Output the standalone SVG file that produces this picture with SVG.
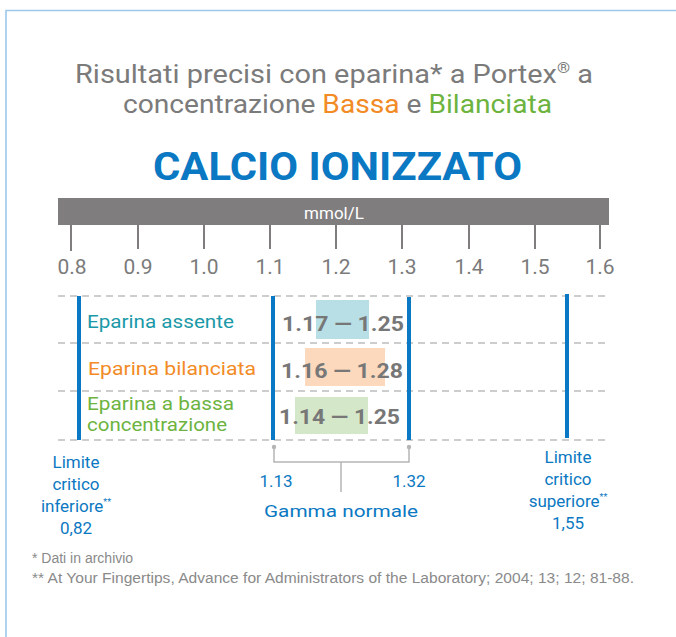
<svg xmlns="http://www.w3.org/2000/svg" width="676" height="637" viewBox="0 0 676 637">
<style>
.din{font-family:Roboto,"DejaVu Sans",sans-serif}
.gray{fill:#7b7b7b}
.blue{fill:#0a78c2}
.tick{stroke:#7f7d7e;stroke-width:2}
.tl{font-family:Roboto,sans-serif;font-size:21px;fill:#7b7b7b;text-anchor:middle}
.dash{stroke:#bdbdbd;stroke-width:1.5;stroke-dasharray:7,5}
.vbar{fill:#0a78c2}
.row{font-family:Roboto,sans-serif;font-size:19px}
.val{font-family:Roboto,sans-serif;font-size:21px;font-weight:bold;fill:#777777}
.lab{font-family:Roboto,sans-serif;font-size:17px;fill:#0a78c2;text-anchor:middle}
.foot{font-family:"Liberation Sans",Arial,sans-serif;font-size:14px;fill:#8a8a8a}
</style>
<rect x="0" y="0" width="676" height="637" fill="#ffffff"/>
<path d="M6 640 V10.5 H680" fill="none" stroke="#9cc8ec" stroke-width="1.6"/>

<g id="title">
<text class="din gray" x="334" y="83" font-size="26" text-anchor="middle" textLength="518" lengthAdjust="spacingAndGlyphs">Risultati precisi con eparina* a Portex<tspan font-size="15" dy="-10">®</tspan><tspan dy="10"> a</tspan></text>
<text class="din" x="337.5" y="113" font-size="26" text-anchor="middle" textLength="429" lengthAdjust="spacingAndGlyphs"><tspan class="gray">concentrazione </tspan><tspan fill="#f28b26">Bassa</tspan><tspan class="gray"> e </tspan><tspan fill="#6db33f">Bilanciata</tspan></text>
<text class="din blue" x="337.5" y="180" font-size="38" font-weight="bold" text-anchor="middle" textLength="369" lengthAdjust="spacingAndGlyphs">CALCIO IONIZZATO</text>
</g>

<g id="axis">
<rect x="58" y="198" width="551" height="27" fill="#7f7d7e"/>
<text x="334" y="219" font-family="Roboto,sans-serif" font-size="17" fill="#ffffff" text-anchor="middle">mmol/L</text>
<line class="tick" x1="71" y1="225" x2="71" y2="251"/>
<line class="tick" x1="138" y1="225" x2="138" y2="249"/>
<line class="tick" x1="204" y1="225" x2="204" y2="249"/>
<line class="tick" x1="270" y1="225" x2="270" y2="249"/>
<line class="tick" x1="336" y1="225" x2="336" y2="249"/>
<line class="tick" x1="402" y1="225" x2="402" y2="249"/>
<line class="tick" x1="469" y1="225" x2="469" y2="249"/>
<line class="tick" x1="535" y1="225" x2="535" y2="249"/>
<line class="tick" x1="600" y1="225" x2="600" y2="249"/>
<text class="tl" x="72" y="274">0.8</text>
<text class="tl" x="138" y="274">0.9</text>
<text class="tl" x="204" y="274">1.0</text>
<text class="tl" x="270" y="274">1.1</text>
<text class="tl" x="336" y="274">1.2</text>
<text class="tl" x="402" y="274">1.3</text>
<text class="tl" x="469" y="274">1.4</text>
<text class="tl" x="535" y="274">1.5</text>
<text class="tl" x="600" y="274">1.6</text>
</g>

<g id="grid">
<line class="dash" x1="58" y1="296" x2="609" y2="296"/>
<line class="dash" x1="58" y1="343" x2="609" y2="343"/>
<line class="dash" x1="58" y1="391" x2="609" y2="391"/>
<line class="dash" x1="58" y1="440" x2="609" y2="440"/>
</g>

<g id="bars">
<rect class="vbar" x="77" y="296" width="4" height="144"/>
<rect class="vbar" x="271" y="296" width="4" height="144"/>
<rect class="vbar" x="407" y="297" width="4" height="143"/>
<rect class="vbar" x="565" y="294" width="4" height="144"/>
</g>

<g id="row-assente">
<rect x="316" y="300" width="53" height="39" fill="#b9dfe6"/>
<text class="row" x="87" y="328" fill="#1a99a8" textLength="147" lengthAdjust="spacingAndGlyphs">Eparina assente</text>
<text class="val" x="343" y="331" text-anchor="middle" textLength="122" lengthAdjust="spacingAndGlyphs">1.17 — 1.25</text>
</g>
<g id="row-bilanciata">
<rect x="305" y="348" width="80" height="38" fill="#fcd9bd"/>
<text class="row" x="88" y="375" fill="#f28b26" textLength="168" lengthAdjust="spacingAndGlyphs">Eparina bilanciata</text>
<text class="val" x="342" y="378" text-anchor="middle" textLength="122" lengthAdjust="spacingAndGlyphs">1.16 — 1.28</text>
</g>
<g id="row-bassa">
<rect x="295" y="397" width="73" height="37" fill="#d5e7c9"/>
<text class="row" x="87" y="410" fill="#6db33f" font-size="17" textLength="147" lengthAdjust="spacingAndGlyphs">Eparina a bassa</text>
<text class="row" x="87" y="431" fill="#6db33f" font-size="17" textLength="140" lengthAdjust="spacingAndGlyphs">concentrazione</text>
<text class="val" x="339.5" y="424" text-anchor="middle" textLength="121" lengthAdjust="spacingAndGlyphs">1.14 — 1.25</text>
</g>

<g id="connectors">
<path d="M274 447 V462 H409 V447 M341 462 V492" fill="none" stroke="#b5b5b5" stroke-width="1.5"/>
<circle cx="274" cy="447" r="2.2" fill="#b5b5b5"/>
<circle cx="409" cy="447" r="2.2" fill="#b5b5b5"/>
</g>

<g id="normal-range">
<text class="lab" x="276" y="487">1.13</text>
<text class="lab" x="409" y="487">1.32</text>
<text class="lab" x="341" y="517" font-size="21" textLength="154" lengthAdjust="spacingAndGlyphs">Gamma normale</text>
</g>

<g id="lower-limit">
<text class="lab" x="76" y="468">Limite</text>
<text class="lab" x="76" y="490">critico</text>
<text class="lab" x="76" y="512">inferiore<tspan font-size="9" dy="-7">**</tspan></text>
<text class="lab" x="76" y="534">0,82</text>
</g>

<g id="upper-limit">
<text class="lab" x="568" y="463">Limite</text>
<text class="lab" x="568" y="485">critico</text>
<text class="lab" x="568" y="507">superiore<tspan font-size="9" dy="-7">**</tspan></text>
<text class="lab" x="568" y="529">1,55</text>
</g>

<g id="footnotes">
<text class="foot" x="32" y="563">* Dati in archivio</text>
<text class="foot" x="32" y="583" textLength="602" lengthAdjust="spacingAndGlyphs">** At Your Fingertips, Advance for Administrators of the Laboratory; 2004; 13; 12; 81-88.</text>
</g>
</svg>
